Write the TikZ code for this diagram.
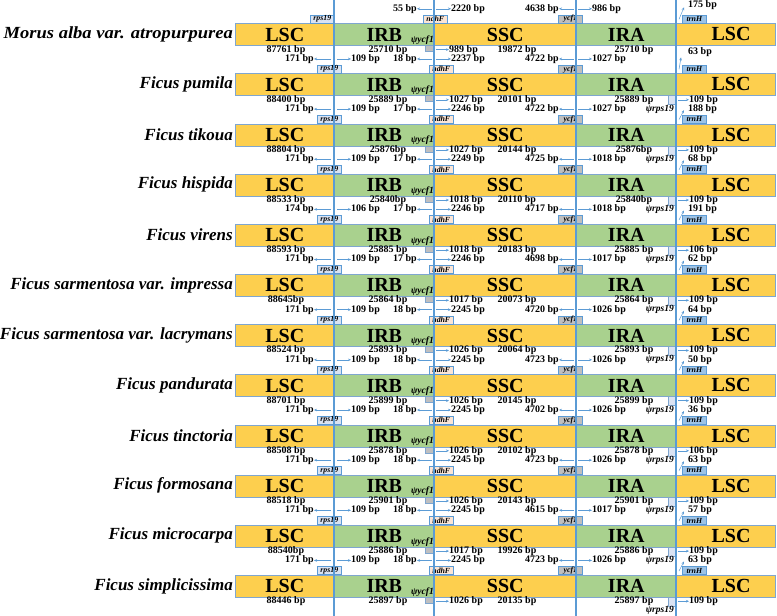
\documentclass[tikz,border=0pt]{standalone}
\usepackage{fontspec}
\usepackage{graphicx}
\setmainfont{Liberation Serif}
\usetikzlibrary{arrows.meta}
\definecolor{lscY}{HTML}{FDCF4E}
\definecolor{irG}{HTML}{A9D18E}
\definecolor{lineB}{HTML}{5B9BD5}
\definecolor{segB}{HTML}{7FA6CF}
\definecolor{arrB}{HTML}{5B9BD5}
\definecolor{rpsF}{HTML}{DAE3F3}
\definecolor{ndhC}{HTML}{FBE5D6}
\definecolor{ycfF}{HTML}{BFBFBF}
\definecolor{trnF}{HTML}{9DC3E6}
\def\rowdata{%
0/Morus alba var. atropurpurea/-/-/55 bp/2220 bp/4638 bp/986 bp/175 bp/87761 bp/25710 bp/989 bp/19872 bp/-,%
1/Ficus pumila/171 bp/109 bp/18 bp/2237 bp/4722 bp/1027 bp/63 bp/88400 bp/25889 bp/1027 bp/20101 bp/109 bp,%
2/Ficus tikoua/171 bp/109 bp/17 bp/2246 bp/4722 bp/1027 bp/188 bp/88804 bp/25876bp/1027 bp/20144 bp/109 bp,%
3/Ficus hispida/171 bp/109 bp/17 bp/2249 bp/4725 bp/1018 bp/68 bp/88533 bp/25840bp/1018 bp/20110 bp/109 bp,%
4/Ficus virens/174 bp/106 bp/17 bp/2246 bp/4717 bp/1018 bp/191 bp/88593 bp/25885 bp/1018 bp/20183 bp/106 bp,%
5/Ficus sarmentosa var. impressa/171 bp/109 bp/17 bp/2246 bp/4698 bp/1017 bp/62 bp/88645bp/25864 bp/1017 bp/20073 bp/109 bp,%
6/Ficus sarmentosa var. lacrymans/171 bp/109 bp/18 bp/2245 bp/4720 bp/1026 bp/64 bp/88524 bp/25893 bp/1026 bp/20064 bp/109 bp,%
7/Ficus pandurata/171 bp/109 bp/18 bp/2245 bp/4723 bp/1026 bp/50 bp/88701 bp/25899 bp/1026 bp/20145 bp/109 bp,%
8/Ficus tinctoria/171 bp/109 bp/18 bp/2245 bp/4702 bp/1026 bp/36 bp/88508 bp/25878 bp/1026 bp/20102 bp/106 bp,%
9/Ficus formosana/171 bp/109 bp/18 bp/2245 bp/4723 bp/1026 bp/63 bp/88518 bp/25901 bp/1026 bp/20143 bp/109 bp,%
10/Ficus microcarpa/171 bp/109 bp/18 bp/2245 bp/4615 bp/1017 bp/57 bp/88540bp/25886 bp/1017 bp/19926 bp/109 bp,%
11/Ficus simplicissima/171 bp/109 bp/18 bp/2245 bp/4723 bp/1026 bp/63 bp/88446 bp/25897 bp/1026 bp/20135 bp/109 bp}
\begin{document}
\begin{tikzpicture}[x=1pt,y=-1pt,
  seg/.style={draw=segB, line width=0.6pt, inner sep=0pt, anchor=north west, minimum height=22pt, font=\fontsize{20}{24}\selectfont\bfseries},
  reglab/.style={font=\fontsize{20}{24}\selectfont\bfseries, inner sep=0pt},
  gbox/.style={draw=lineB, line width=0.6pt, inner sep=0pt, anchor=south west, minimum height=8pt, minimum width=24pt, font=\fontsize{7.8}{8}\selectfont\bfseries\itshape},
  sbox/.style={draw=segB, line width=0.6pt, inner sep=0pt, anchor=north west},
  num/.style={font=\fontsize{10}{11}\selectfont\bfseries, inner sep=0pt},
  psi/.style={font=\fontsize{9.5}{10}\selectfont\bfseries\itshape, inner sep=0pt},
  spname/.style={font=\fontsize{17}{18}\selectfont\bfseries\itshape, anchor=east, inner sep=0pt},
  arr/.style={draw=arrB, line width=0.5pt, -{Stealth[length=3pt,width=2.6pt]}},
  vline/.style={draw=lineB, line width=1.4pt}
]
\useasboundingbox (0,0) rectangle (777,616);
% bars and gene boxes
\foreach \i/\spn/\rl/\rr/\nl/\nr/\yl/\yr/\tn/\lsc/\ir/\py/\ssc/\pr in \rowdata {
  \pgfmathsetmacro\T{23.3+50.15*\i}
  \pgfmathsetmacro\B{\T+22}
  \node[seg,fill=lscY,minimum width=99pt] (la\i) at (235,\T) {LSC};
  \node[seg,fill=irG,minimum width=100pt] (irb\i) at (334,\T) {IRB};
  \node[seg,fill=lscY,minimum width=142pt] (ssc\i) at (434,\T) {SSC};
  \node[seg,fill=irG,minimum width=100pt] (ira\i) at (576,\T) {IRA};
  \node[seg,fill=lscY,minimum width=99pt] (lb\i) at (676,\T) {};
  \node[reglab] (lbt\i) at (731,\T+11) {LSC};
  \ifnum\i=0 \def\rx{310}\def\nx{423}\else\def\rx{317}\def\nx{429}\fi
  \node[gbox,fill=rpsF] (rps\i) at (\rx,\T) {rps19};
  \node[gbox,fill=ndhC] (ndh\i) at (\nx,\T) {ndhF};
  \node[gbox,fill=ycfF] (ycf\i) at (558,\T) {ycf1};
  \node[gbox,fill=trnF] (trn\i) at (682,\T) {trnH};
  \node[sbox,fill=ycfF,minimum width=9pt,minimum height=6pt] (pyb\i) at (425,\B) {};
  \ifnum\i>0
    \node[sbox,fill=rpsF,minimum width=7.5pt,minimum height=9pt] (prb\i) at (668,\B) {};
  \fi
}
% boundary lines
\coordinate (v1t) at (334,0); \coordinate (v1b) at (334,616);
\coordinate (v2t) at (434,0); \coordinate (v2b) at (434,616);
\coordinate (v3t) at (576,0); \coordinate (v3b) at (576,616);
\coordinate (v4t) at (676,0); \coordinate (v4b) at (676,616);
\draw[vline] (v1t) -- (v1b);
\draw[vline] (v2t) -- (v2b);
\draw[vline] (v3t) -- (v3b);
\draw[vline] (v4t) -- (v4b);
% texts and arrows
\foreach \i/\spn/\rl/\rr/\nl/\nr/\yl/\yr/\tn/\lsc/\ir/\py/\ssc/\pr in \rowdata {
  \pgfmathsetmacro\T{23.3+50.15*\i}
  \pgfmathsetmacro\B{\T+22}
  \pgfmathsetmacro\ty{\T-14.5}
  \pgfmathsetmacro\by{\B+4.3}
  \ifnum\i=0
    \pgfmathsetmacro\thy{\T-18}\pgfmathsetmacro\tex{684}\pgfmathsetmacro\tey{\T-16}
  \else\ifnum\i=1
    \pgfmathsetmacro\thy{\T-21}\pgfmathsetmacro\tex{681}\pgfmathsetmacro\tey{\T-16}
  \else
    \pgfmathsetmacro\thy{\T-14.5}\pgfmathsetmacro\tex{684}\pgfmathsetmacro\tey{\T-13.5}
  \fi\fi
  \ifnum\i=0
    \node[spname] (sp\i) at (233,\T+11) {\scalebox{1.09}[1]{\spn}};
  \else
    \node[spname] (sp\i) at (233,\T+11) {\spn};
  \fi
  \node[psi,anchor=east] (pyt\i) at (434,\B-5) {ψycf1};
  % top line
  \ifnum\i>0
    \coordinate (rlc\i) at (331,\ty);
    \coordinate (rrc\i) at (337,\ty);
    \node[num,anchor=east] (rl\i) at (314,\ty) {\rl};
    \node[num,anchor=west] (rr\i) at (351,\ty) {\rr};
    \draw[arr] (rlc\i) -- (rl\i.east);
    \draw[arr] (rrc\i) -- (rr\i.west);
  \fi
  \ifnum\i>1
    \node[psi,anchor=east] (psl\i) at (674,\ty) {ψrps19};
  \fi
  \coordinate (nlc\i) at (432,\ty);
  \coordinate (nrc\i) at (436,\ty);
  \node[num,anchor=east] (nl\i) at (417,\ty) {\nl};
  \node[num,anchor=west] (nr\i) at (451,\ty) {\nr};
  \draw[arr] (nlc\i) -- (nl\i.east);
  \draw[arr] (nrc\i) -- (nr\i.west);
  \coordinate (ylc\i) at (574,\ty);
  \coordinate (yrc\i) at (578,\ty);
  \node[num,anchor=east] (yl\i) at (559,\ty) {\yl};
  \node[num,anchor=west] (yr\i) at (592,\ty) {\yr};
  \draw[arr] (ylc\i) -- (yl\i.east);
  \draw[arr] (yrc\i) -- (yr\i.west);
  \coordinate (tc\i) at (679,\T-4);
  \coordinate (te\i) at (\tex,\tey);
  \node[num,anchor=west] (tl\i) at (688,\thy) {\tn};
  \draw[arr] (tc\i) -- (te\i);
  % bottom line
  \node[num] (lenl\i) at (286,\by) {\lsc};
  \node[num] (lenb\i) at (388,\by) {\ir};
  \node[num] (lens\i) at (517,\by) {\ssc};
  \node[num] (lena\i) at (634,\by) {\ir};
  \coordinate (pyc\i) at (436,\by);
  \node[num,anchor=west] (pyl\i) at (449,\by) {\py};
  \draw[arr] (pyc\i) -- (pyl\i.west);
  \ifnum\i>0
    \coordinate (prc\i) at (678,\by);
    \node[num,anchor=west] (prl\i) at (689,\by) {\pr};
    \draw[arr] (prc\i) -- (prl\i.west);
  \fi
}
\node[psi,anchor=east] (pslast) at (674,610) {ψrps19};
\end{tikzpicture}
\end{document}
